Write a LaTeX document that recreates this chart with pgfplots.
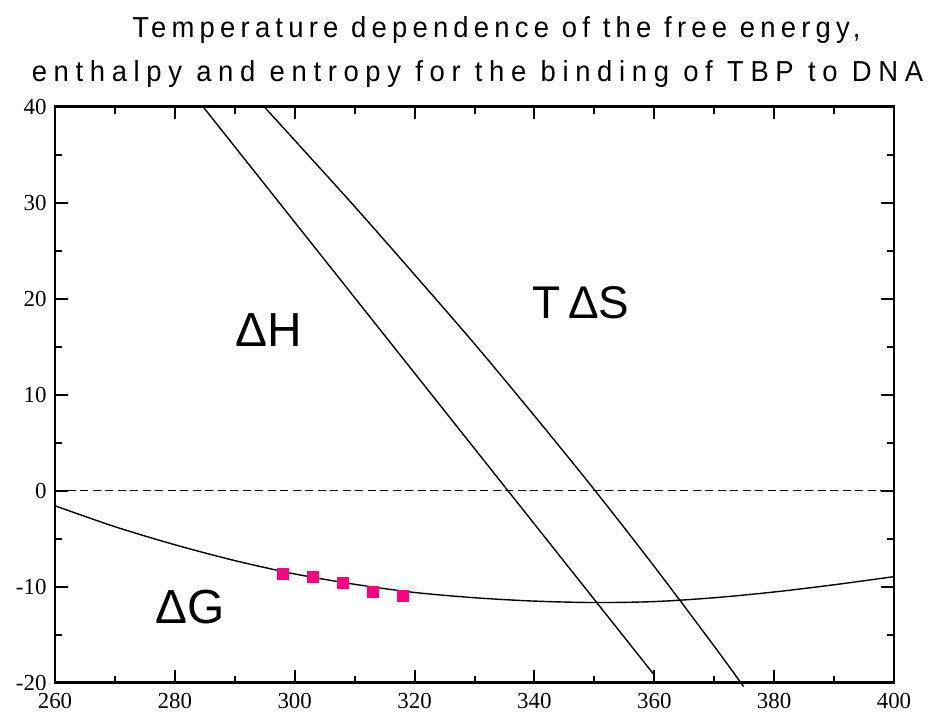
\documentclass[border=0pt]{standalone}
\usepackage{fontspec}
\setmainfont{Liberation Serif}
\newfontfamily\titlefont[LetterSpace=23,FakeStretch=0.95]{Liberation Sans}
\newfontfamily\titlefontA[LetterSpace=18,FakeStretch=0.95]{Liberation Sans}
\newfontfamily\labfont{Liberation Sans}
\usepackage{pgfplots}
\pgfplotsset{compat=1.18}
\definecolor{pts}{RGB}{255,0,128}

\begin{document}
\begin{tikzpicture}
% keep the page at the reference proportions (945 x 714)
\useasboundingbox (-55bp,-31.3bp) rectangle (890bp,682.7bp);
\begin{axis}[
  name=ax,
  scale only axis,
  width=839bp, height=576bp,
  xmin=260, xmax=400, ymin=-20, ymax=40,
  xtick={260,280,...,400},
  ytick={-20,-10,...,40},
  minor x tick num=1, minor y tick num=1,
  tick align=inside,
  major tick length=12.7bp, minor tick length=7bp,
  axis line style={line width=2.4bp},
  every tick/.style={black, line width=2bp},
  tick label style={font=\fontsize{23}{26}\selectfont},
  xticklabel style={yshift=-7bp},
  yticklabel style={xshift=-5bp},
  /pgf/number format/assume math mode=true,
  /pgf/number format/1000 sep={},
  clip=false,
]
% zero line
\addplot[black, line width=1.3bp, dash pattern=on 8bp off 4.5bp] coordinates {(260,0) (400,0)};
% Delta H
\addplot[black, line width=1.4bp] coordinates {(284.7,40) (360,-19.2)};
% T Delta S
\addplot[black, line width=1.4bp, smooth] coordinates {
  (294.9,40) (300,36.5) (310,29.6) (320,22.5) (330,15.3) (340,7.8)
  (350,0.1) (360,-7.9) (370,-16.2) (374.9,-20.4)};
% measured Delta G
\addplot[only marks, mark=square*, mark size=5.5bp, color=pts] coordinates {
  (298,-8.6) (303,-9.0) (308,-9.55) (313,-10.5) (318,-10.9)};
% fitted Delta G
\addplot[black, line width=1.4bp, smooth] coordinates {
  (260,-1.57) (270,-3.75) (280,-5.63) (290,-7.28) (300,-8.67) (310,-9.75)
  (320,-10.6) (330,-11.15) (340,-11.5) (350,-11.65) (360,-11.55)
  (370,-11.15) (380,-10.55) (390,-9.8) (400,-8.95)};
\node[font=\labfont\fontsize{48}{50}\selectfont] at (axis cs:295.7,16.7) {ΔH};
\node[font=\labfont\fontsize{46}{50}\selectfont] at (axis cs:347.8,19.6) {T\,ΔS};
\node[font=\labfont\fontsize{48}{50}\selectfont] at (axis cs:282.5,-12.1) {ΔG};
\end{axis}
\node[anchor=base, font=\titlefontA\fontsize{29}{32}\selectfont] at ([xshift=22bp,yshift=68.7bp]ax.north) {Temperature dependence of the free energy,};
\node[anchor=base, font=\titlefont\fontsize{29}{32}\selectfont] at ([xshift=3bp,yshift=25.5bp]ax.north) {enthalpy and entropy for the binding of TBP to DNA};
\end{tikzpicture}
\end{document}
